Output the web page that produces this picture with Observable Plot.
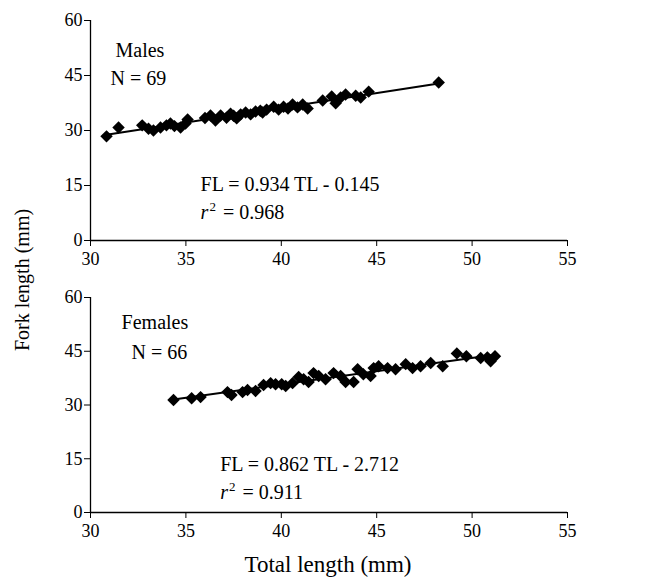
<!DOCTYPE html>
<html><head><meta charset="utf-8">
<script src="https://cdn.jsdelivr.net/npm/d3@7"></script>
<script src="https://cdn.jsdelivr.net/npm/@observablehq/plot@0.6"></script>
<style>
body{margin:0;background:#fff;}
#wrap{position:relative;width:649px;height:579px;font-family:"Liberation Serif","Times New Roman",serif;color:#000;overflow:hidden;}
#top{position:absolute;left:0;top:0;width:649px;}
#bot{position:absolute;left:0;top:277px;width:649px;}
#ytitle{position:absolute;left:22px;top:280px;transform:translate(-50%,-50%) rotate(-90deg);font-size:20px;white-space:nowrap;}
#xtitle{position:absolute;left:328px;top:565px;transform:translate(-50%,-50%);font-size:23px;white-space:nowrap;}
svg text, svg tspan{font-family:"Liberation Serif","Times New Roman",serif !important;}
</style></head>
<body><div id="wrap"><div id="top"></div><div id="bot"></div><div id="ytitle">Fork length (mm)</div><div id="xtitle">Total length (mm)</div></div>
<script>
// Tick values
const xTicks = [30, 35, 40, 45, 50, 55];
const yTicks = [0, 15, 30, 45, 60];

// Males: total length (TL) and fork length (FL), mm
const maleTL = [30.84, 31.47, 32.71, 33.04, 33.30, 33.67, 33.98, 34.19, 34.40, 34.72, 34.98, 35.09,
  36.00, 36.29, 36.55, 36.82, 37.13, 37.34, 37.50, 37.66, 37.87, 38.13, 38.39, 38.65, 38.90, 39.02,
  39.23, 39.60, 39.86, 40.12, 40.35, 40.59, 40.85, 41.12, 41.38, 42.17, 42.64, 42.85, 43.11, 43.37,
  43.90, 44.16, 44.58, 48.25];
const maleFL = [28.4, 30.8, 31.4, 30.5, 30.0, 30.8, 31.4, 31.9, 31.2, 30.8, 31.9, 33.0,
  33.4, 34.1, 32.7, 34.1, 33.5, 34.6, 34.0, 33.3, 34.4, 34.9, 34.4, 35.2, 35.4, 34.9,
  35.7, 36.5, 35.7, 36.5, 36.0, 37.1, 36.3, 37.1, 36.0, 38.2, 39.3, 37.4, 39.0, 39.8,
  39.5, 39.0, 40.6, 43.1];

// Females
const femaleTL = [34.35, 35.30, 35.77, 37.18, 37.39, 37.97, 38.23, 38.65, 39.07, 39.44, 39.70, 40.02,
  40.23, 40.59, 40.91, 41.17, 41.43, 41.69, 41.96, 42.32, 42.74, 43.11, 43.37, 43.79, 44.00, 44.30,
  44.68, 44.84, 45.10, 45.57, 45.99, 46.52, 46.88, 47.30, 47.83, 48.46, 49.20, 49.70, 50.45, 50.80,
  50.97, 51.20];
const femaleFL = [31.4, 31.9, 32.2, 33.6, 32.8, 33.6, 34.2, 33.9, 35.6, 36.1, 35.8, 35.8,
  35.3, 36.1, 37.8, 37.2, 36.4, 38.9, 38.1, 37.2, 38.9, 38.1, 36.4, 36.4, 40.0, 38.6,
  38.1, 40.3, 40.8, 40.3, 40.0, 41.4, 40.3, 40.8, 41.7, 40.8, 44.4, 43.6, 43.1, 43.3,
  42.2, 43.6];

// Annotations (text, TL, FL)
const maleNotes = ["Males", "N = 69", "FL = 0.934 TL - 0.145", "r2 = 0.968"];
const maleNoteX = [31.31, 31.05, 35.77, 35.77];
const maleNoteY = [51.8, 44.2, 15.3, 7.6];
const femaleNotes = ["Females", "N = 66", "FL = 0.862 TL - 2.712", "r2 = 0.911"];
const femaleNoteX = [31.63, 32.15, 36.8, 36.8];
const femaleNoteY = [53.1, 44.7, 13.3, 5.56];

const SERIF = '"Liberation Serif","Times New Roman",serif';

function panel(tl, fl, notes, nx, ny, height, inner) {
  const pts = tl.map((t, i) => ({tl: t, fl: fl[i]}));
  const ann = notes.map((s, i) => ({s, x: nx[i], y: ny[i]}));
  const chart = Plot.plot({
    width: 649, height,
    marginLeft: 90, marginRight: 82, marginTop: 20, marginBottom: height - 20 - inner,
    style: {fontFamily: SERIF, fontSize: "18px", color: "#000", background: "#fff"},
    x: {domain: [30, 55], ticks: xTicks},
    y: {domain: [0, 60], ticks: yTicks},
    marks: [
      Plot.axisX({ticks: xTicks, tickSize: 6, tickPadding: 6, label: null, fontSize: 18, fontFamily: SERIF}),
      Plot.axisY({ticks: yTicks, tickSize: 6, tickPadding: 2, label: null, fontSize: 18, fontFamily: SERIF}),
      Plot.ruleX([30], {stroke: "#000", strokeWidth: 1.3}),
      Plot.ruleY([0], {stroke: "#000", strokeWidth: 1.3}),
      Plot.linearRegressionY(pts, {x: "tl", y: "fl", stroke: "#000", strokeWidth: 2, ci: 0}),
      Plot.dot(pts, {x: "tl", y: "fl", symbol: "diamond2", fill: "#000", r: 5.6}),
      Plot.text(ann, {x: "x", y: "y", text: "s", textAnchor: "start", fontSize: 20, fontFamily: SERIF, fill: "#000"})
    ]
  });
  chart.querySelectorAll('[aria-label$="tick label"] text').forEach(t => {
    t.style.fontSize = "18px";
    t.style.fontVariant = "normal";
  });
  chart.querySelectorAll("text").forEach(t => {
    const c = t.textContent;
    if (/^r2 = /.test(c)) {
      const rest = c.slice(2);
      t.textContent = "";
      const ns = "http://www.w3.org/2000/svg";
      const a = document.createElementNS(ns, "tspan"); a.setAttribute("font-style", "italic"); a.textContent = "r";
      const b = document.createElementNS(ns, "tspan"); b.setAttribute("font-size", "13"); b.setAttribute("dy", "-8"); b.setAttribute("dx", "1"); b.textContent = "2";
      const d = document.createElementNS(ns, "tspan"); d.setAttribute("dy", "8"); d.setAttribute("dx", "2"); d.textContent = rest;
      t.append(a, b, d);
    }
  });
  return chart;
}

document.getElementById("top").append(panel(maleTL, maleFL, maleNotes, maleNoteX, maleNoteY, 270, 220));
document.getElementById("bot").append(panel(femaleTL, femaleFL, femaleNotes, femaleNoteX, femaleNoteY, 265, 215));
</script>
</body></html>
